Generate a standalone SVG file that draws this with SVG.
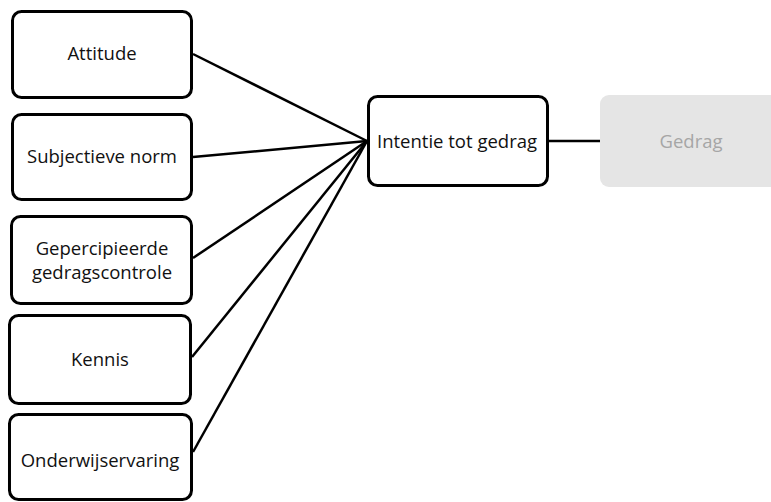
<svg xmlns="http://www.w3.org/2000/svg" width="771" height="502" viewBox="0 0 771 502">
  <style>
    .box { fill: #ffffff; stroke: #000000; stroke-width: 3; }
    .ghost { fill: #e5e5e5; stroke: none; }
    .lbl { font-family: "Open Sans", "Noto Sans", "Liberation Sans", sans-serif; font-size: 18.5px; fill: #111111; text-anchor: middle; }
    .glbl { font-family: "Open Sans", "Noto Sans", "Liberation Sans", sans-serif; font-size: 18.5px; fill: #a6a6a6; text-anchor: middle; }
    .conn { stroke: #000000; stroke-width: 2.5; fill: none; }
  </style>
  <rect width="771" height="502" fill="#ffffff"/>
  <g id="connectors">
    <line class="conn" x1="193" y1="54" x2="367" y2="141"/>
    <line class="conn" x1="193" y1="157" x2="367" y2="141"/>
    <line class="conn" x1="193" y1="258" x2="367" y2="141"/>
    <line class="conn" x1="192" y1="357" x2="367" y2="141"/>
    <line class="conn" x1="193" y1="452" x2="367" y2="141"/>
    <line class="conn" x1="549" y1="141" x2="600" y2="141"/>
  </g>
  <g id="attitude">
    <rect class="box" x="12.5" y="11.5" width="179" height="86" rx="9"/>
    <text class="lbl" x="102" y="60">Attitude</text>
  </g>
  <g id="subjectieve-norm">
    <rect class="box" x="12.5" y="114.5" width="179" height="85" rx="9"/>
    <text class="lbl" x="102" y="163">Subjectieve norm</text>
  </g>
  <g id="gepercipieerde-gedragscontrole">
    <rect class="box" x="11.5" y="216.5" width="180" height="87" rx="9"/>
    <text class="lbl" x="102" y="255"><tspan x="102" y="255">Gepercipieerde</tspan><tspan x="102" y="279">gedragscontrole</tspan></text>
  </g>
  <g id="kennis">
    <rect class="box" x="9.5" y="315.5" width="181" height="88" rx="9"/>
    <text class="lbl" x="100" y="366">Kennis</text>
  </g>
  <g id="onderwijservaring">
    <rect class="box" x="9.5" y="414.5" width="182" height="85" rx="9"/>
    <text class="lbl" x="100" y="467">Onderwijservaring</text>
  </g>
  <g id="intentie-tot-gedrag">
    <rect class="box" x="368.5" y="96.5" width="179" height="89" rx="9"/>
    <text class="lbl" x="457" y="148">Intentie tot gedrag</text>
  </g>
  <g id="gedrag">
    <rect class="ghost" x="600" y="95" width="185" height="92" rx="9"/>
    <text class="glbl" x="691" y="148">Gedrag</text>
  </g>
</svg>
